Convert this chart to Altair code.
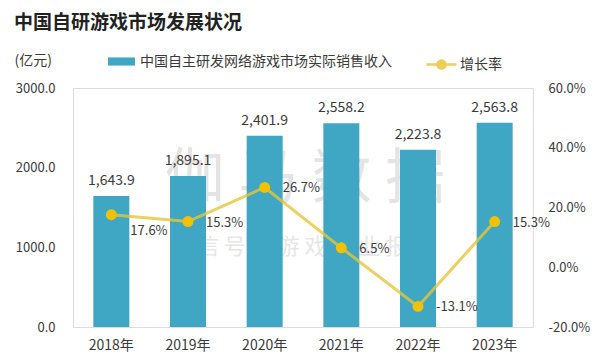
import altair as alt
import pandas as pd

years = ["2018年", "2019年", "2020年", "2021年", "2022年", "2023年"]
revenue = [1643.9, 1895.1, 2401.9, 2558.2, 2223.8, 2563.8]
growth = [0.176, 0.153, 0.267, 0.065, -0.131, 0.153]
bar_name = "中国自主研发网络游戏市场实际销售收入"
line_name = "增长率"
title_text = "中国自研游戏市场发展状况"
unit_text = "(亿元)"
wm_big = "伽  马  数  据"
wm_small = "微 信 号 ： 游 戏 产 业 报 告"

FONT = "Noto Sans CJK SC"
BAR = "#3FA7C4"
LINE = "#E6C53A"
DOT = "#F2C200"
TXT = "#3a3a3a"

df = pd.DataFrame({"year": years, "revenue": revenue, "growth": growth,
                   "s1": bar_name, "s2": line_name})

x = alt.X("year:N", sort=years, title=None,
          scale=alt.Scale(paddingInner=0.53, paddingOuter=0.265),
          axis=alt.Axis(labelAngle=0, domain=False, ticks=False, labelPadding=11,
                        labelFontSize=14, labelColor=TXT, labelFont=FONT))

one = pd.DataFrame({"t": [0]})
wm1 = alt.Chart(one).mark_text(text=wm_big, fontSize=60, font=FONT, color="#e4e4e4",
                               align="center", baseline="middle").encode(
    x=alt.value(232), y=alt.value(92))
wm2 = alt.Chart(one).mark_text(text=wm_small, fontSize=22, font=FONT, color="#e6e6e6",
                               align="center", baseline="middle").encode(
    x=alt.value(229), y=alt.value(159))
title = alt.Chart(one).mark_text(text=title_text, fontSize=19, fontWeight="bold", font=FONT,
                                 color="#222222", align="left", baseline="middle").encode(
    x=alt.value(-59), y=alt.value(-65))

yl = alt.Y("revenue:Q", title=unit_text, scale=alt.Scale(domain=[0, 3000], nice=False),
           axis=alt.Axis(values=[0, 1000, 2000, 3000], format=".1f", grid=False, domain=False,
                         ticks=False, labelPadding=18, labelFontSize=13, labelColor=TXT,
                         labelFont=FONT, titleAngle=0, titleX=-59, titleY=-28,
                         titleAlign="left", titleBaseline="middle", titleFontSize=14,
                         titleFontWeight="normal", titleColor=TXT, titleFont=FONT))

bars = alt.Chart(df).mark_bar(size=36).encode(
    x=x, y=yl,
    color=alt.Color("s1:N", scale=alt.Scale(domain=[bar_name], range=[BAR]),
                    legend=alt.Legend(orient="none", legendX=35, legendY=-40, title=None,
                                      symbolType="M-1,-0.3H1V0.3H-1Z", symbolSize=729,
                                      labelFontSize=14, labelColor=TXT, labelFont=FONT,
                                      labelOffset=5, labelLimit=400, symbolStrokeWidth=0)))
bar_labels = alt.Chart(df).mark_text(dy=-15, fontSize=14, font=FONT, color=TXT,
                                     baseline="middle").encode(
    x=x, y=yl, text=alt.Text("revenue:Q", format=",.1f"))
left = alt.layer(bars, bar_labels)

yr = alt.Y("growth:Q", title=None, scale=alt.Scale(domain=[-0.2, 0.6], nice=False),
           axis=alt.Axis(orient="right", values=[-0.2, 0, 0.2, 0.4, 0.6],
                         labelExpr="replace(format(datum.value, '.1%'), '\u2212', '-')",
                         grid=False, domain=False, ticks=False, labelPadding=15,
                         labelFontSize=13, labelColor=TXT, labelFont=FONT))

line = alt.Chart(df).mark_line(strokeWidth=3, opacity=0.8).encode(
    x=x, y=yr,
    stroke=alt.Stroke("s2:N", scale=alt.Scale(domain=[line_name], range=[LINE]),
                      legend=alt.Legend(orient="none", legendX=352, legendY=-40, title=None,
                                        symbolType="M-1,0H1M0.27,0A0.27,0.27,0,1,1,-0.27,0A0.27,0.27,0,1,1,0.27,0Z",
                                        symbolSize=900, symbolStrokeWidth=2.5,
                                        symbolFillColor=DOT,
                                        labelFontSize=14, labelColor=TXT, labelFont=FONT,
                                        labelOffset=2, labelLimit=200)))
points = alt.Chart(df).mark_circle(size=120, color=DOT, opacity=1).encode(x=x, y=yr)
lab_base = alt.Chart(df).transform_calculate(
    lab="replace(format(datum.growth, '.1%'), '\u2212', '-')")
lab_main = lab_base.transform_filter(alt.datum.year != "2018年").mark_text(
    align="left", dx=18, dy=1, fontSize=13, font=FONT, color=TXT, baseline="middle").encode(
    x=x, y=yr, text="lab:N")
lab_first = lab_base.transform_filter(alt.datum.year == "2018年").mark_text(
    align="left", dx=19, dy=16, fontSize=13, font=FONT, color=TXT, baseline="middle").encode(
    x=x, y=yr, text="lab:N")
right = alt.layer(line, points, lab_main, lab_first)

chart = alt.layer(wm1, wm2, title, left, right).resolve_scale(y="independent").properties(
    width=460, height=239, autosize="none",
    padding={"left": 65, "top": 80, "right": 59, "bottom": 27}
).configure_view(stroke=None).configure(background="white")

chart.save("out.html", embed_options={"renderer": "svg", "actions": False})
